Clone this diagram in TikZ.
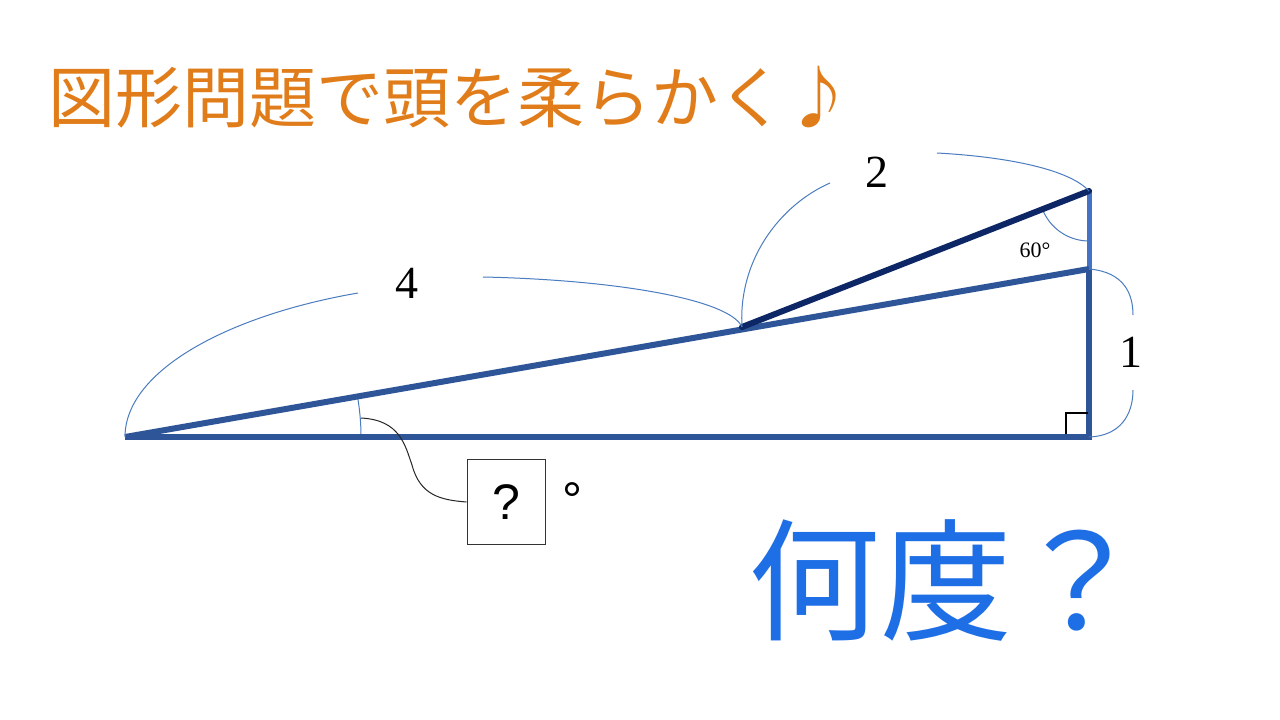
\documentclass[tikz,border=0pt]{standalone}
\usepackage{fontspec}
\setmainfont{Liberation Serif}
\newfontfamily\jp{Noto Sans CJK JP}
\newfontfamily\qsans{Liberation Sans}
\definecolor{mainblue}{HTML}{2E5597}
\definecolor{lightblue}{HTML}{4472C4}
\definecolor{navy}{HTML}{0D2766}
\definecolor{arcblue}{HTML}{4A7CC0}
\definecolor{titleorange}{HTML}{E07D1A}
\definecolor{askblue}{HTML}{1E6FE6}
\begin{document}
\begin{tikzpicture}[x=1pt,y=-1pt,
  side/.style={line width=6pt,color=mainblue},
  brace/.style={line width=1pt,color=arcblue},
  num/.style={font=\fontsize{46}{50}\selectfont,inner sep=0pt},
]
\useasboundingbox (0,0) rectangle (1280,720);
\fill[white] (0,0) rectangle (1280,720);
% points
\coordinate (A) at (125,437);
\coordinate (C) at (1089,437);
\coordinate (B) at (1089,269);
\coordinate (D) at (1089,191);
\coordinate (E) at (742,327);
% angle arcs
\draw[brace] (A) ++(0:236) arc[start angle=0,end angle=-9.9,radius=236];
\draw[brace] (D) ++(90:50) arc[start angle=90,end angle=158.6,radius=50];
% triangle sides
\draw[line width=5pt,color=lightblue] (B) -- (D);
\draw[side] (A) -- (C) -- (B);
\draw[side] (A) -- (B);
\draw[line width=6pt,color=navy,line cap=round] (E) -- (D);
% right angle mark
\draw[line width=2pt,black] (1066,434) -- (1066,413) -- (1088,413);
% labels
\node[num] (l4) at (407,283) {4};
\node[num] (l2) at (877,172) {2};
\node[num] (l1) at (1131,352) {1};
\node[inner sep=0pt,font=\fontsize{22}{24}\selectfont] (l60) at (1035,250) {60°};
% braces
\draw[brace] (A) .. controls (125,370) and (230,315) .. (358,293);
\draw[brace] (483,277) .. controls (620,280) and (730,300) .. (E);
\draw[brace] (E) .. controls (738,260) and (780,205) .. (830,183);
\draw[brace] (937,153) .. controls (1010,157) and (1070,170) .. (D);
\draw[brace] (B) .. controls (1125,272) and (1133,295) .. (1133,315);
\draw[brace] (1133,390) .. controls (1133,415) and (1120,436) .. (C);
% answer box
\node[draw=black!80,line width=1pt,minimum width=78pt,minimum height=85pt,inner sep=0pt,
      font=\qsans\fontsize{50}{54}\selectfont] (box) at (506,502) {?};
\draw[line width=1pt,black!85] (361,418) .. controls (400,420) and (405,445) .. (412,465)
   .. controls (420,495) and (440,500) .. (box.west);
\node[font=\qsans\fontsize{50}{54}\selectfont,inner sep=0pt,anchor=center] (deg) at (572,500) {°};
% texts
\node[anchor=west,inner sep=0pt,text=titleorange,font=\jp\fontsize{67}{70}\selectfont] (title) at (48,97) {図形問題で頭を柔らかく♪};
\node[inner sep=0pt,text=askblue,font=\jp\fontsize{132}{136}\selectfont] (ask) at (946,580) {何度？};
\end{tikzpicture}
\end{document}
